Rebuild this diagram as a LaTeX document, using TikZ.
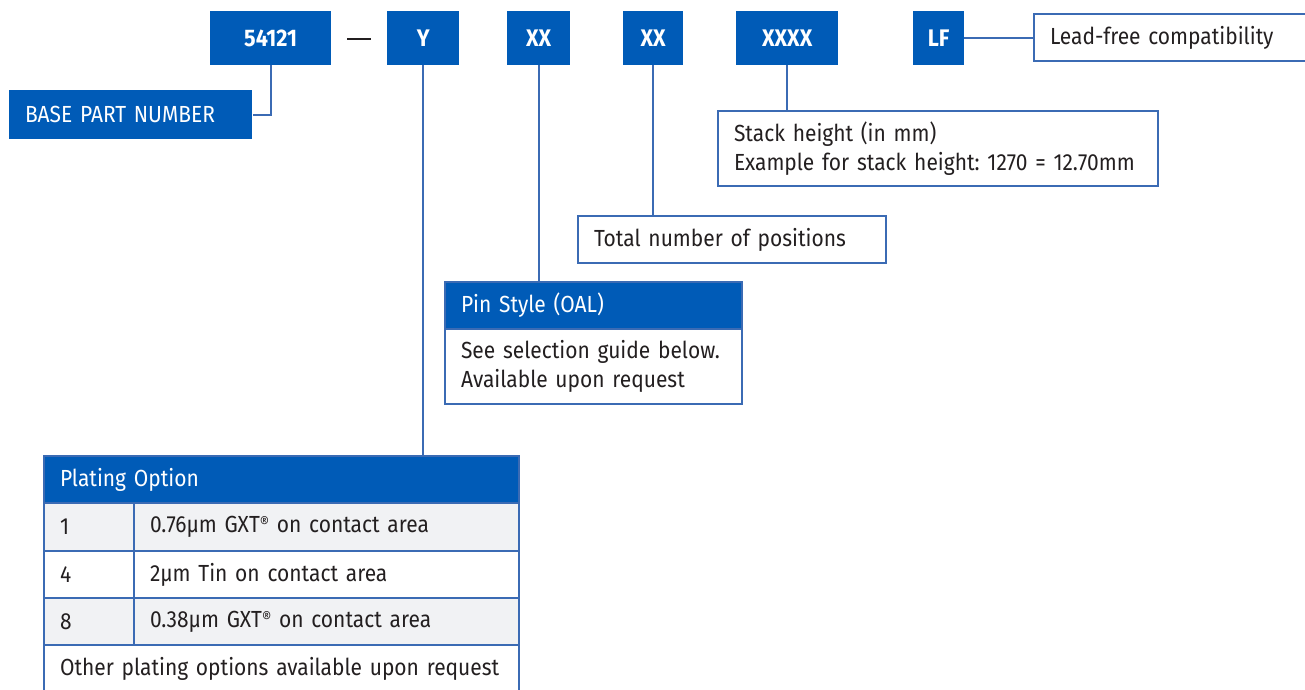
\documentclass[tikz,border=0pt]{standalone}
\usepackage{fontspec}
\setmainfont[FakeStretch=0.9]{Fira Sans}
\frenchspacing
\definecolor{tblue}{HTML}{005BB7}
\definecolor{lblue}{HTML}{3B6BB4}
\definecolor{rowgray}{HTML}{F1F2F4}
\definecolor{txt}{HTML}{231F20}
\newcommand{\regm}{{\fontsize{16}{16}\selectfont\raisebox{0.45ex}{®}}}
\begin{document}
\begin{tikzpicture}[x=1pt,y=-1pt,
  code/.style={fill=tblue, text=white, font=\fontsize{24}{28}\selectfont\bfseries, inner sep=0pt, minimum height=54pt, anchor=north west},
  lbox/.style={draw=lblue, line width=2pt, fill=white, text=txt, font=\fontsize{23.3}{29}\selectfont, align=left, inner xsep=16pt, inner ysep=0pt, anchor=north west},
  bbox/.style={lbox, fill=tblue, text=white},
  gbox/.style={lbox, fill=rowgray},
  conn/.style={draw=lblue, line width=2pt}]
\useasboundingbox (0,0) rectangle (1305,689);
\clip (0,0) rectangle (1305,689);
% code boxes
\node[code, minimum width=121pt] (p54121) at (210,11) {54121};
\node[inner sep=0pt] (dash) at (359,39) {\color{txt}\rule{24pt}{2.5pt}};
\node[code, minimum width=72pt] (pY) at (387,11) {Y};
\node[code, minimum width=63pt] (pX1) at (507,11) {XX};
\node[code, minimum width=60pt] (pX2) at (623,11) {XX};
\node[code, minimum width=102pt] (pX4) at (736,11) {XXXX};
\node[code, minimum width=51pt] (pLF) at (913,11) {LF};
% description boxes
\node[bbox, text width=211pt, minimum height=49pt, draw=none] (base) at (8,89) {BASE PART NUMBER};
\node[lbox, text width=240pt, minimum height=47pt] (lead) at (1033,13) {Lead-free compatibility};
\node[lbox, text width=408pt, minimum height=75pt] (stack) at (717,110) {Stack height (in mm)\\Example for stack height: 1270 = 12.70mm};
\node[lbox, text width=276pt, minimum height=47pt] (total) at (577,215) {Total number of positions};
\node[bbox, text width=265pt, minimum height=47pt] (pinh) at (444,281) {Pin Style (OAL)};
\node[lbox, text width=265pt, minimum height=75pt] (pinb) at (444,328) {See selection guide below.\\Available upon request};
% plating table
\node[bbox, text width=443pt, minimum height=47pt] (ph) at (43,455) {Plating Option};
\node[gbox, text width=58pt, minimum height=48pt] (r1a) at (43,502) {1};
\node[gbox, text width=353pt, minimum height=48pt] (r1b) at (133,502) {0.76µm GXT\regm{} on contact area};
\node[lbox, text width=58pt, minimum height=47pt] (r2a) at (43,550) {4};
\node[lbox, text width=353pt, minimum height=47pt] (r2b) at (133,550) {2µm Tin on contact area};
\node[gbox, text width=58pt, minimum height=47pt] (r3a) at (43,597) {8};
\node[gbox, text width=353pt, minimum height=47pt] (r3b) at (133,597) {0.38µm GXT\regm{} on contact area};
\node[lbox, text width=443pt, minimum height=48pt] (r4) at (43,644) {Other plating options available upon request};
% connectors
\draw[conn] (p54121.south) |- (base.east);
\draw[conn] (pY.south) -- (pY.south |- ph.north);
\draw[conn] (pX1.south) -- (pX1.south |- pinh.north);
\draw[conn] (pX2.south) -- (pX2.south |- total.north);
\draw[conn] (pX4.south) -- (pX4.south |- stack.north);
\draw[conn] (pLF.east) -- (pLF.east -| lead.west);
\end{tikzpicture}
\end{document}
